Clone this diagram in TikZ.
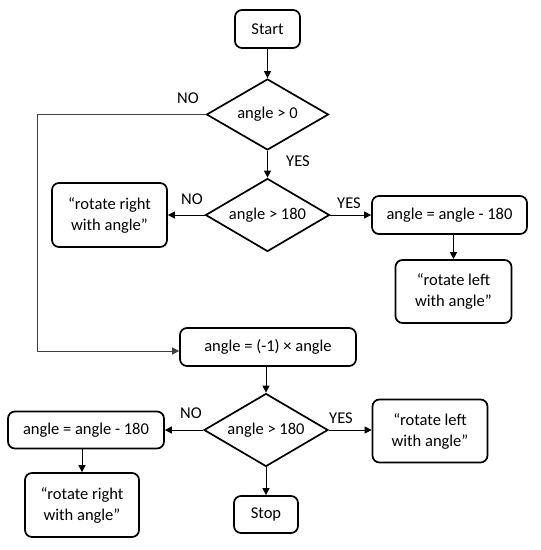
\documentclass[tikz,border=0pt]{standalone}
\usepackage{fontspec}
\setmainfont{Carlito}
\usetikzlibrary{shapes.geometric,arrows.meta}
\begin{document}
\begin{tikzpicture}[x=1pt,y=-1pt,
  every node/.style={font=\fontsize{16.5}{21}\selectfont},
  box/.style={draw,line width=1.7pt,rounded corners=7pt,inner sep=0pt,align=center},
  dec/.style={draw,diamond,line width=1.7pt,inner sep=0pt,aspect=1.7},
  conn/.style={line width=1pt,-{Triangle[length=7pt,width=7pt]}},
  lbl/.style={inner sep=0pt}]
\useasboundingbox (0,0) rectangle (541,550);
\node[box,minimum width=65,minimum height=38] (start) at (267.5,29) {Start};
\node[dec,minimum width=122,minimum height=71] (d1) at (267.5,114.5) {angle > 0};
\node[dec,minimum width=124,minimum height=73] (d2) at (267.5,215) {angle > 180};
\node[box,minimum width=115,minimum height=64] (rr1) at (109.5,215) {“rotate right\\with angle”};
\node[box,minimum width=155,minimum height=38] (as1) at (449.5,215) {angle = angle - 180};
\node[box,minimum width=116,minimum height=63] (rl1) at (453.5,291.5) {“rotate left\\with angle”};
\node[box,minimum width=176,minimum height=38] (neg) at (268,347) {angle = (-1) × angle};
\node[dec,minimum width=124,minimum height=73] (d3) at (266,430) {angle > 180};
\node[box,minimum width=156,minimum height=37] (as2) at (86,430) {angle = angle - 180};
\node[box,minimum width=114,minimum height=64] (rr2) at (82,505) {“rotate right\\with angle”};
\node[box,minimum width=115,minimum height=63] (rl2) at (430,431) {“rotate left\\with angle”};
\node[box,minimum width=64,minimum height=37] (stop) at (266,514.5) {Stop};
\coordinate (c1) at (37.5,114.5);
\coordinate (c2) at (37.5,351);
\draw[conn] (start) -- (d1);
\draw[conn] (d1) -- (d2);
\draw[conn,line width=0.8pt,draw=black!75] (d1.west) -- (c1) -- (c2) -- (c2 -| neg.west);
\draw[conn] (d2.west) -- (d2.west -| rr1.east);
\draw[conn] (d2.east) -- (d2.east -| as1.west);
\draw[conn] (as1.south -| rl1.north) -- (rl1.north);
\draw[conn] (neg.south -| d3.north) -- (d3.north);
\draw[conn] (d3.west) -- (d3.west -| as2.east);
\draw[conn] (d3.east) -- (d3.east -| rl2.west);
\draw[conn] (d3) -- (stop);
\draw[conn] (as2.south -| rr2.north) -- (rr2.north);
\node[lbl] (no1) at (188,98) {NO};
\node[lbl] (yes1) at (298,161) {YES};
\node[lbl] (no2) at (192,199) {NO};
\node[lbl] (yes2) at (349,203) {YES};
\node[lbl] (no3) at (191,413) {NO};
\node[lbl] (yes3) at (341,418) {YES};
\end{tikzpicture}
\end{document}
